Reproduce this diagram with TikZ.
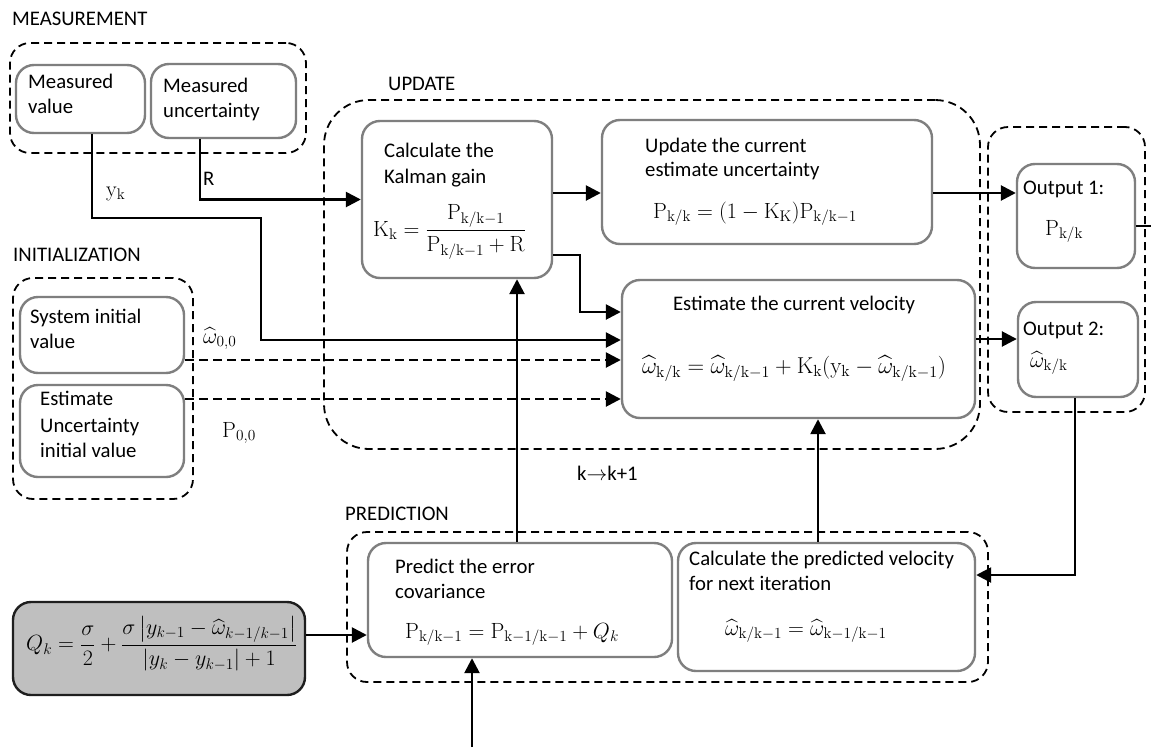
\documentclass[tikz,border=0pt]{standalone}
\usepackage{fix-cm}
\usepackage{amsmath}
\usepackage[no-math]{fontspec}
\setmainfont{Carlito}
\usetikzlibrary{arrows.meta}
\definecolor{boxgray}{RGB}{127,127,127}
\definecolor{qfill}{RGB}{191,191,191}
\definecolor{qdraw}{RGB}{30,30,30}
\tikzset{
  box/.style={draw=boxgray, line width=2.4pt, rounded corners=18pt, inner sep=0pt},
  qbox/.style={draw=qdraw, fill=qfill, line width=2.4pt, rounded corners=18pt, inner sep=0pt},
  grp/.style={draw=black, line width=1.8pt, dash pattern=on 8pt off 5pt, rounded corners=20pt, inner sep=0pt},
  conn/.style={draw=black, line width=2.6pt, -{Triangle[length=15pt,width=15pt]}},
  dconn/.style={conn, dash pattern=on 9pt off 5pt},
  wire/.style={draw=black, line width=2.6pt},
  txt/.style={anchor=base west, inner sep=0pt, font=\fontsize{20.74}{25}\selectfont},
  mth/.style={anchor=base west, inner sep=0pt, font=\fontsize{22}{26}\selectfont},
}
\begin{document}
\begin{tikzpicture}[x=1pt,y=-1pt]
\useasboundingbox (0,0) rectangle (1151,747);
\fill[white] (0,0) rectangle (1151,747);

% groups
\node[grp, minimum width=296pt, minimum height=110pt] (measG) at (158,98) {};
\node[grp, minimum width=180pt, minimum height=221pt] (initG) at (103,388.5) {};
\node[grp, rounded corners=45pt, minimum width=656pt, minimum height=349pt] (updG) at (652,274.5) {};
\node[grp, minimum width=157pt, minimum height=285pt] (outG) at (1066.5,269.5) {};
\node[grp, minimum width=641pt, minimum height=150pt] (predG) at (667.5,607) {};

% boxes
\node[box, minimum width=129pt, minimum height=68pt] (mv) at (80.5,99) {};
\node[box, minimum width=145pt, minimum height=74pt] (mu) at (223.5,101) {};
\node[box, minimum width=164pt, minimum height=76pt] (siv) at (102,335) {};
\node[box, minimum width=164pt, minimum height=92pt] (euiv) at (102,431) {};
\node[box, minimum width=190pt, minimum height=157pt] (kal) at (457,199.5) {};
\node[box, minimum width=330pt, minimum height=124pt] (upd) at (767,182) {};
\node[box, minimum width=353pt, minimum height=138pt] (est) at (798.5,349) {};
\node[box, minimum width=118pt, minimum height=104pt] (o1) at (1076,216) {};
\node[box, minimum width=120pt, minimum height=95pt] (o2) at (1078,349.5) {};
\node[box, minimum width=304pt, minimum height=114pt] (pec) at (520,600) {};
\node[box, minimum width=297pt, minimum height=128pt] (pv) at (826.5,607) {};
\node[qbox, minimum width=292pt, minimum height=93pt] (q) at (159,648.5) {};

% group titles
\node[txt] (tMeas) at (12,25) {MEASUREMENT};
\node[txt] (tUpd) at (388,90) {UPDATE};
\node[txt] (tInit) at (13,261) {INITIALIZATION};
\node[txt] (tPred) at (345,520) {PREDICTION};
\node[txt] (tk) at (577,480) {k$\rightarrow$k+1};

% box texts
\node[txt] (mv1) at (28,88) {Measured};
\node[txt] (mv2) at (28,113) {value};
\node[txt] (mu1) at (163,92) {Measured};
\node[txt] (mu2) at (163,117) {uncertainty};
\node[txt] (siv1) at (30,323) {System initial};
\node[txt] (siv2) at (30,348) {value};
\node[txt] (eu1) at (40,405) {Estimate};
\node[txt] (eu2) at (40,432) {Uncertainty};
\node[txt] (eu3) at (40,457) {initial value};
\node[txt] (kal1) at (384,157) {Calculate the};
\node[txt] (kal2) at (384,183) {Kalman gain};
\node[mth, anchor=west] (kalf) at (373,232) {$\mathrm{K_k}=\dfrac{\mathrm{P_{k/k-1}}}{\mathrm{P_{k/k-1}}+\mathrm{R}}$};
\node[txt] (upd1) at (645,152) {Update the current};
\node[txt] (upd2) at (645,176) {estimate uncertainty};
\node[mth] (updf) at (653,218) {$\mathrm{P_{k/k}}=(1-\mathrm{K_K})\mathrm{P_{k/k-1}}$};
\node[txt, anchor=base] (est1) at (794,310) {Estimate the current velocity};
\node[mth, font=\fontsize{23}{27}\selectfont] (estf) at (642,373) {$\widehat{\omega}_{\mathrm{k/k}}=\widehat{\omega}_{\mathrm{k/k-1}}+\mathrm{K_k}(\mathrm{y_k}-\widehat{\omega}_{\mathrm{k/k-1}})$};
\node[txt] (o1t) at (1023,194) {Output 1:};
\node[mth] (o1f) at (1045,235) {$\mathrm{P_{k/k}}$};
\node[txt] (o2t) at (1023,335) {Output 2:};
\node[mth] (o2f) at (1030,367) {$\widehat{\omega}_{\mathrm{k/k}}$};
\node[txt] (pec1) at (395,573) {Predict the error};
\node[txt] (pec2) at (395,598) {covariance};
\node[mth] (pecf) at (405,638) {$\mathrm{P_{k/k-1}}=\mathrm{P_{k-1/k-1}}+Q_k$};
\node[txt] (pv1) at (689,565) {Calculate the predicted velocity};
\node[txt] (pv2) at (689,590) {for next iteration};
\node[mth] (pvf) at (725,635) {$\widehat{\omega}_{\mathrm{k/k-1}}=\widehat{\omega}_{\mathrm{k-1/k-1}}$};
\node[mth, anchor=west] (qf) at (26,644) {$Q_k=\dfrac{\sigma}{2}+\dfrac{\sigma\left|y_{k-1}-\widehat{\omega}_{k-1/k-1}\right|}{|y_k-y_{k-1}|+1}$};

% connector labels
\node[mth] (lyk) at (106,196) {$\mathrm{y_k}$};
\node[txt] (lR) at (203,185) {R};
\node[mth] (lw0) at (203,343) {$\widehat{\omega}_{0,0}$};
\node[mth] (lp0) at (222,437) {$\mathrm{P_{0,0}}$};

% connectors
\coordinate (ykA) at (92,218);
\coordinate (ykB) at (261,218);
\draw[conn] ([xshift=11.5pt]mv.south) -- (ykA) -- (ykB) |- ([yshift=9pt]est.west);
\draw[conn] ([xshift=-23.5pt]mu.south) |- (kal.west);
\coordinate (k2u) at ([yshift=6.5pt]kal.east);
\draw[conn] (k2u) -- (k2u -| upd.west);
\coordinate (u2o) at ([yshift=-11pt]upd.east);
\draw[conn] (u2o) -- (u2o -| o1.west);
\coordinate (o1R) at ([yshift=-10pt]o1.east);
\coordinate (o1end) at (1151,226);
\draw[wire] (o1R) -- (o1end);
\coordinate (k2e) at ([yshift=-55.5pt]kal.east);
\coordinate (kx) at (580,255);
\coordinate (e1) at ([yshift=37pt]est.west);
\draw[conn] (k2e) -- (kx) |- (e1);
\coordinate (s1) at ([yshift=-25pt]siv.east);
\draw[dconn] (s1) -- (s1 -| est.west);
\coordinate (p1) at ([yshift=32pt]euiv.east);
\draw[dconn] (p1) -- (p1 -| est.west);
\coordinate (e2) at ([yshift=10pt]est.east);
\draw[conn] (e2) -- (e2 -| o2.west);
\draw[conn] ([xshift=-3pt]o2.south) |- ([yshift=32pt]pv.east);
\draw[conn] ([xshift=-8.5pt]pv.north) -- ([xshift=19.5pt]est.south);
\draw[conn] ([xshift=-3pt]pec.north) -- ([xshift=60pt]kal.south);
\draw[conn] ([yshift=13.5pt]q.east) -- ([yshift=-35pt]pec.west);
\coordinate (bin) at (472,747);
\draw[conn] (bin) -- ([xshift=-48pt]pec.south);
\end{tikzpicture}
\end{document}
